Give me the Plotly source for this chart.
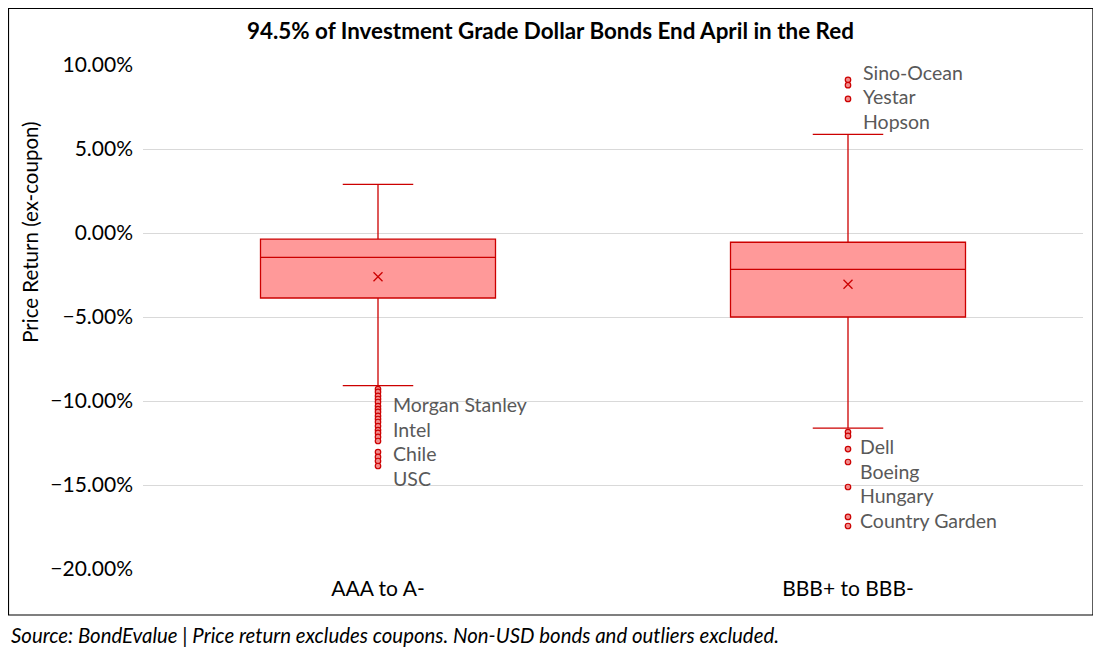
import plotly.graph_objects as go

categories = ["AAA to A-", "BBB+ to BBB-"]
upper_fence = [0.0290, 0.0587]
q3_vals = [-0.0037, -0.0055]
median_vals = [-0.0145, -0.0216]
q1_vals = [-0.0387, -0.0500]
lower_fence = [-0.0909, -0.1161]
mean_vals = [-0.0260, -0.0305]

outliers_a = [-0.0929, -0.0946, -0.0970, -0.0988, -0.1006, -0.1030, -0.1048, -0.1065,
              -0.1089, -0.1107, -0.1125, -0.1149, -0.1173, -0.1190, -0.1214, -0.1238,
              -0.1304, -0.1333, -0.1357, -0.1387]
outliers_b = [0.0912, 0.0880, 0.0798, -0.1185, -0.1208, -0.1286, -0.1363,
              -0.1512, -0.1690, -0.1744]

labels_a = ["Morgan Stanley", "Intel", "Chile", "USC"]
labels_a_y = [-0.1018, -0.1167, -0.1315, -0.1464]
labels_b_low = ["Dell", "Boeing", "Hungary", "Country Garden"]
labels_b_low_y = [-0.1268, -0.1417, -0.1565, -0.1714]
labels_b_high = ["Sino-Ocean", "Yestar", "Hopson"]
labels_b_high_y = [0.0958, 0.0810, 0.0661]

y_ticks = [0.10, 0.05, 0.0, -0.05, -0.10, -0.15, -0.20]

LINE = "#CC0000"
FILL = "#FF9999"
FONT = "Lato"
LABEL_GREY = "#595959"

fig = go.Figure()
fig.add_trace(go.Box(
    x=categories, q1=q1_vals, median=median_vals, q3=q3_vals,
    lowerfence=lower_fence, upperfence=upper_fence,
    boxpoints=False, width=0.5, whiskerwidth=0.3,
    fillcolor=FILL, line=dict(color=LINE, width=1.3),
    hoverinfo="skip",
))
fig.add_trace(go.Scatter(
    x=categories, y=mean_vals, mode="markers",
    marker=dict(symbol="x-thin", size=9, line=dict(color=LINE, width=1.3)),
))
fig.add_trace(go.Scatter(
    x=[categories[0]] * len(outliers_a) + [categories[1]] * len(outliers_b),
    y=outliers_a + outliers_b, mode="markers",
    marker=dict(symbol="circle", size=5.5, color="#F28B8B",
                line=dict(color=LINE, width=1.2)),
))

annotations = []
for txt, yy in zip(labels_a, labels_a_y):
    annotations.append(dict(x=categories[0], y=yy, text=txt, showarrow=False,
                            xanchor="left", xshift=13,
                            font=dict(family=FONT, size=19.5, color=LABEL_GREY)))
for txt, yy in zip(labels_b_low, labels_b_low_y):
    annotations.append(dict(x=categories[1], y=yy, text=txt, showarrow=False,
                            xanchor="left", xshift=10,
                            font=dict(family=FONT, size=19.5, color=LABEL_GREY)))
for txt, yy in zip(labels_b_high, labels_b_high_y):
    annotations.append(dict(x=categories[1], y=yy, text=txt, showarrow=False,
                            xanchor="left", xshift=13,
                            font=dict(family=FONT, size=19.5, color=LABEL_GREY)))
annotations.append(dict(xref="paper", yref="paper", x=0.433, y=1.0694,
                        text="<b>94.5% of Investment Grade Dollar Bonds End April in the Red</b>",
                        showarrow=False, xanchor="center", yanchor="middle",
                        font=dict(family=FONT, size=22.4, color="black")))
annotations.append(dict(xref="paper", yref="paper", x=-0.1425, y=-0.131,
                        text="<i>Source: BondEvalue | Price return excludes coupons. Non-USD bonds and outliers excluded.</i>",
                        showarrow=False, xanchor="left", yanchor="middle",
                        font=dict(family=FONT, size=20.4, color="black")))
annotations.append(dict(xref="paper", yref="paper", x=-0.1202, y=0.667,
                        text="Price Return (ex-coupon)", textangle=-90,
                        showarrow=False, xanchor="center", yanchor="middle",
                        font=dict(family=FONT, size=20.5, color="black")))

fig.update_layout(
    width=1093, height=645,
    margin=dict(l=135, r=18, t=57, b=84),
    paper_bgcolor="white", plot_bgcolor="white",
    showlegend=False,
    font=dict(family=FONT, size=21, color="black"),
    annotations=annotations,
    shapes=[dict(type="rect", xref="paper", yref="paper",
                 x0=-0.1431, x1=1.0106, y0=-0.0913, y1=1.1121,
                 line=dict(color="black", width=1.2), fillcolor="rgba(0,0,0,0)")],
    xaxis=dict(type="category", range=[-0.5, 1.5], showgrid=False, showline=False,
               ticks="", tickfont=dict(size=21), ticklabelstandoff=5),
    yaxis=dict(range=[-0.20, 0.10], tickvals=y_ticks, tickformat=".2%",
               showgrid=True, gridcolor="#D9D9D9", gridwidth=1, zeroline=False,
               showline=False, ticks="", ticklen=0, tickfont=dict(size=21),
               ticklabelstandoff=9),
)

fig.write_html("out.html")
